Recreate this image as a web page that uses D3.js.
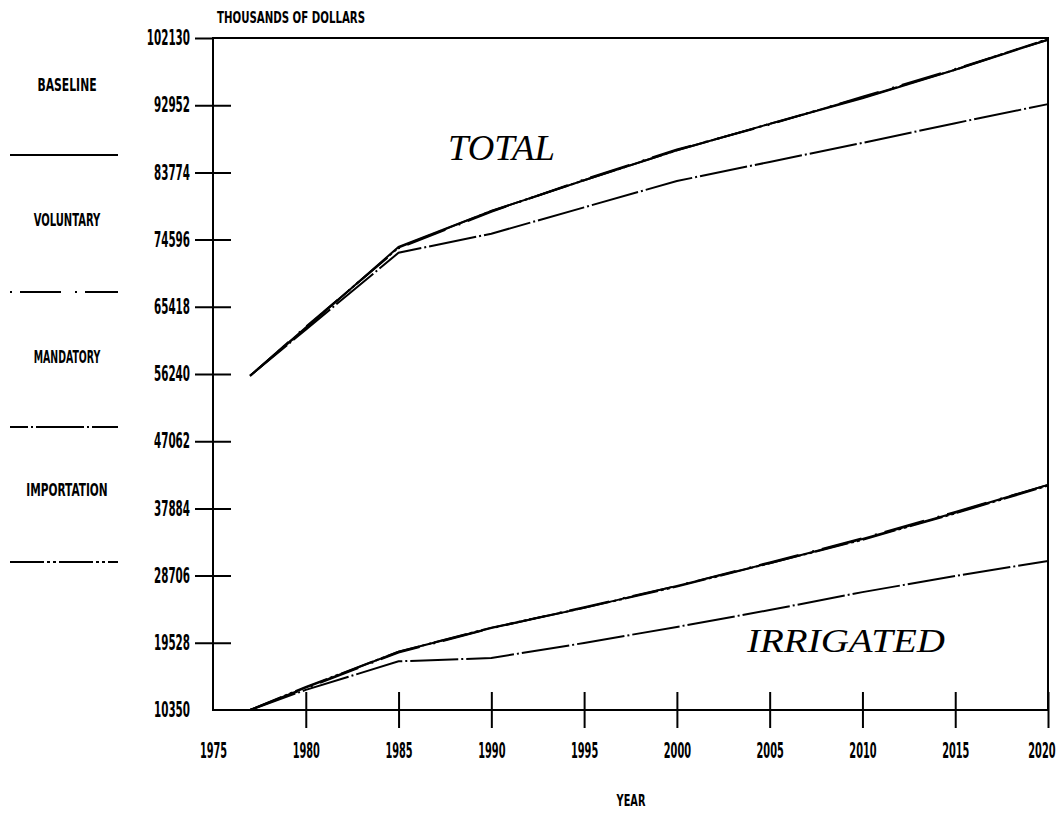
<!DOCTYPE html>
<html>
<head>
<meta charset="utf-8">
<script src="https://cdn.jsdelivr.net/npm/d3@7"></script>
<style>
  body { margin: 0; background: #fff; }
  svg text { fill: #000; }
</style>
</head>
<body>
<svg id="chart" width="1064" height="816"></svg>
<script>
// --- data ---
var years = [1977, 1980, 1985, 1990, 1995, 2000, 2005, 2010, 2015, 2020];

var totalBaseline   = [56000, 62500, 73600, 78500, 82700, 86800, 90400, 93900, 97800, 101900];
var totalVoluntary  = [56000, 62700, 73400, 78400, 82800, 86900, 90300, 94100, 97900, 101900];
var totalMandatory  = [56000, 62300, 72800, 75400, 79000, 82600, 85200, 87800, 90500, 93100];
var totalImportation= [56000, 62600, 73500, 78500, 82700, 86800, 90400, 94000, 97800, 102000];

var irrBaseline     = [10350, 13400, 18300, 21550, 24300, 27300, 30400, 33700, 37300, 41100];
var irrVoluntary    = [10350, 13300, 18200, 21500, 24400, 27300, 30500, 33800, 37400, 41100];
var irrMandatory    = [10350, 13100, 17000, 17450, 19500, 21700, 24000, 26450, 28650, 30700];
var irrImportation  = [10350, 13500, 18300, 21600, 24300, 27200, 30400, 33600, 37200, 41000];

var yTickValues = [10350, 19528, 28706, 37884, 47062, 56240, 65418, 74596, 83774, 92952, 102130];
var xTickValues = [1975, 1980, 1985, 1990, 1995, 2000, 2005, 2010, 2015, 2020];
var legendNames = ["BASELINE", "VOLUNTARY", "MANDATORY", "IMPORTATION"];

var dashes = {
  BASELINE: null,
  VOLUNTARY: "2,8,41,14",
  MANDATORY: "48,3,2,3",
  IMPORTATION: "34,3,3,3,3,3"
};

var series = [
  { name: "VOLUNTARY", values: totalVoluntary },
  { name: "IMPORTATION", values: totalImportation },
  { name: "MANDATORY", values: totalMandatory },
  { name: "BASELINE", values: totalBaseline },
  { name: "VOLUNTARY", values: irrVoluntary },
  { name: "IMPORTATION", values: irrImportation },
  { name: "MANDATORY", values: irrMandatory },
  { name: "BASELINE", values: irrBaseline }
];

var svg = d3.select("#chart");
var condensed = "'DejaVu Sans Condensed', 'Liberation Sans Narrow', 'DejaVu Sans', sans-serif";

var x = d3.scaleLinear().domain([1975, 2020]).range([213, 1048]);
var y = d3.scaleLinear().domain([10350, 102130]).range([710, 38]);

function squeeze(sel, perChar) {
  sel.attr("textLength", function () { return this.textContent.length * perChar; })
     .attr("lengthAdjust", "spacingAndGlyphs");
}

// frame
svg.append("rect")
  .attr("x", x(1975)).attr("y", y(102130))
  .attr("width", x(2020) - x(1975)).attr("height", y(10350) - y(102130))
  .attr("fill", "none").attr("stroke", "#000").attr("stroke-width", 2);

// y axis
var yAxis = svg.append("g")
  .attr("transform", "translate(" + x(1975) + ",0)")
  .call(d3.axisLeft(y).tickValues(yTickValues).tickSize(18).tickPadding(5).tickFormat(d3.format("d")));
yAxis.select(".domain").remove();
yAxis.selectAll(".tick line")
  .attr("x1", function (d) { return d === 102130 ? 0 : 18; })
  .attr("stroke-width", 2)
  .attr("display", function (d) { return d === 10350 ? "none" : null; });
yAxis.selectAll(".tick text")
  .attr("font-family", condensed).attr("font-size", 21).attr("font-weight", "bold")
  .call(squeeze, 7.2);

// x axis
var xAxis = svg.append("g")
  .attr("transform", "translate(0," + y(10350) + ")")
  .call(d3.axisBottom(x).tickValues(xTickValues).tickSize(18).tickFormat(d3.format("d")));
xAxis.select(".domain").remove();
xAxis.selectAll(".tick line")
  .attr("y1", -18)
  .attr("stroke-width", 2)
  .attr("display", function (d) { return d === 1975 ? "none" : null; });
xAxis.selectAll(".tick text")
  .attr("y", 41).attr("dy", "0.35em")
  .attr("font-family", condensed).attr("font-size", 21).attr("font-weight", "bold")
  .call(squeeze, 6.8);
// keep the last label inside the page
xAxis.selectAll(".tick text")
  .filter(function (d) { return d === 2020; })
  .attr("text-anchor", "end")
  .attr("x", 7);

// series
var line = d3.line()
  .x(function (d, i) { return x(years[i]); })
  .y(function (d) { return y(d); });

svg.append("g").selectAll("path")
  .data(series)
  .join("path")
  .attr("d", function (s) { return line(s.values); })
  .attr("fill", "none")
  .attr("stroke", "#000")
  .attr("stroke-width", 2)
  .attr("stroke-dasharray", function (s) { return dashes[s.name]; });

// legend on the left
var legendTextY = [85, 220, 357, 490];
var legendLineY = [155, 292, 427, 562];
var legend = svg.append("g");
legend.selectAll("text")
  .data(legendNames)
  .join("text")
  .attr("x", 67)
  .attr("y", function (d, i) { return legendTextY[i]; })
  .attr("dy", "0.35em")
  .attr("text-anchor", "middle")
  .attr("font-family", condensed).attr("font-size", 18).attr("font-weight", "bold")
  .text(function (d) { return d; })
  .call(squeeze, 7.4);
legend.selectAll("line")
  .data(legendNames)
  .join("line")
  .attr("x1", 10).attr("x2", 118)
  .attr("y1", function (d, i) { return legendLineY[i]; })
  .attr("y2", function (d, i) { return legendLineY[i]; })
  .attr("stroke", "#000").attr("stroke-width", 2)
  .attr("stroke-dasharray", function (d) { return dashes[d]; })
  .attr("stroke-dashoffset", function (d) { return d === "MANDATORY" ? 30 : 0; });

// titles
svg.append("text")
  .attr("x", 217).attr("y", 17).attr("dy", "0.35em")
  .attr("font-family", condensed).attr("font-size", 16).attr("font-weight", "bold")
  .text("THOUSANDS OF DOLLARS")
  .call(squeeze, 7.4);

svg.append("text")
  .attr("x", 631).attr("y", 800).attr("dy", "0.35em")
  .attr("text-anchor", "middle")
  .attr("font-family", condensed).attr("font-size", 16).attr("font-weight", "bold")
  .text("YEAR")
  .call(squeeze, 7.2);

svg.append("text")
  .attr("x", 448).attr("y", 160)
  .attr("font-family", "'Liberation Serif', 'DejaVu Serif', serif")
  .attr("font-style", "italic").attr("font-size", 36)
  .attr("textLength", 107).attr("lengthAdjust", "spacingAndGlyphs")
  .text("TOTAL");

svg.append("text")
  .attr("x", 747).attr("y", 652)
  .attr("font-family", "'Liberation Serif', 'DejaVu Serif', serif")
  .attr("font-style", "italic").attr("font-size", 34)
  .attr("textLength", 198).attr("lengthAdjust", "spacingAndGlyphs")
  .text("IRRIGATED");
</script>
</body>
</html>
